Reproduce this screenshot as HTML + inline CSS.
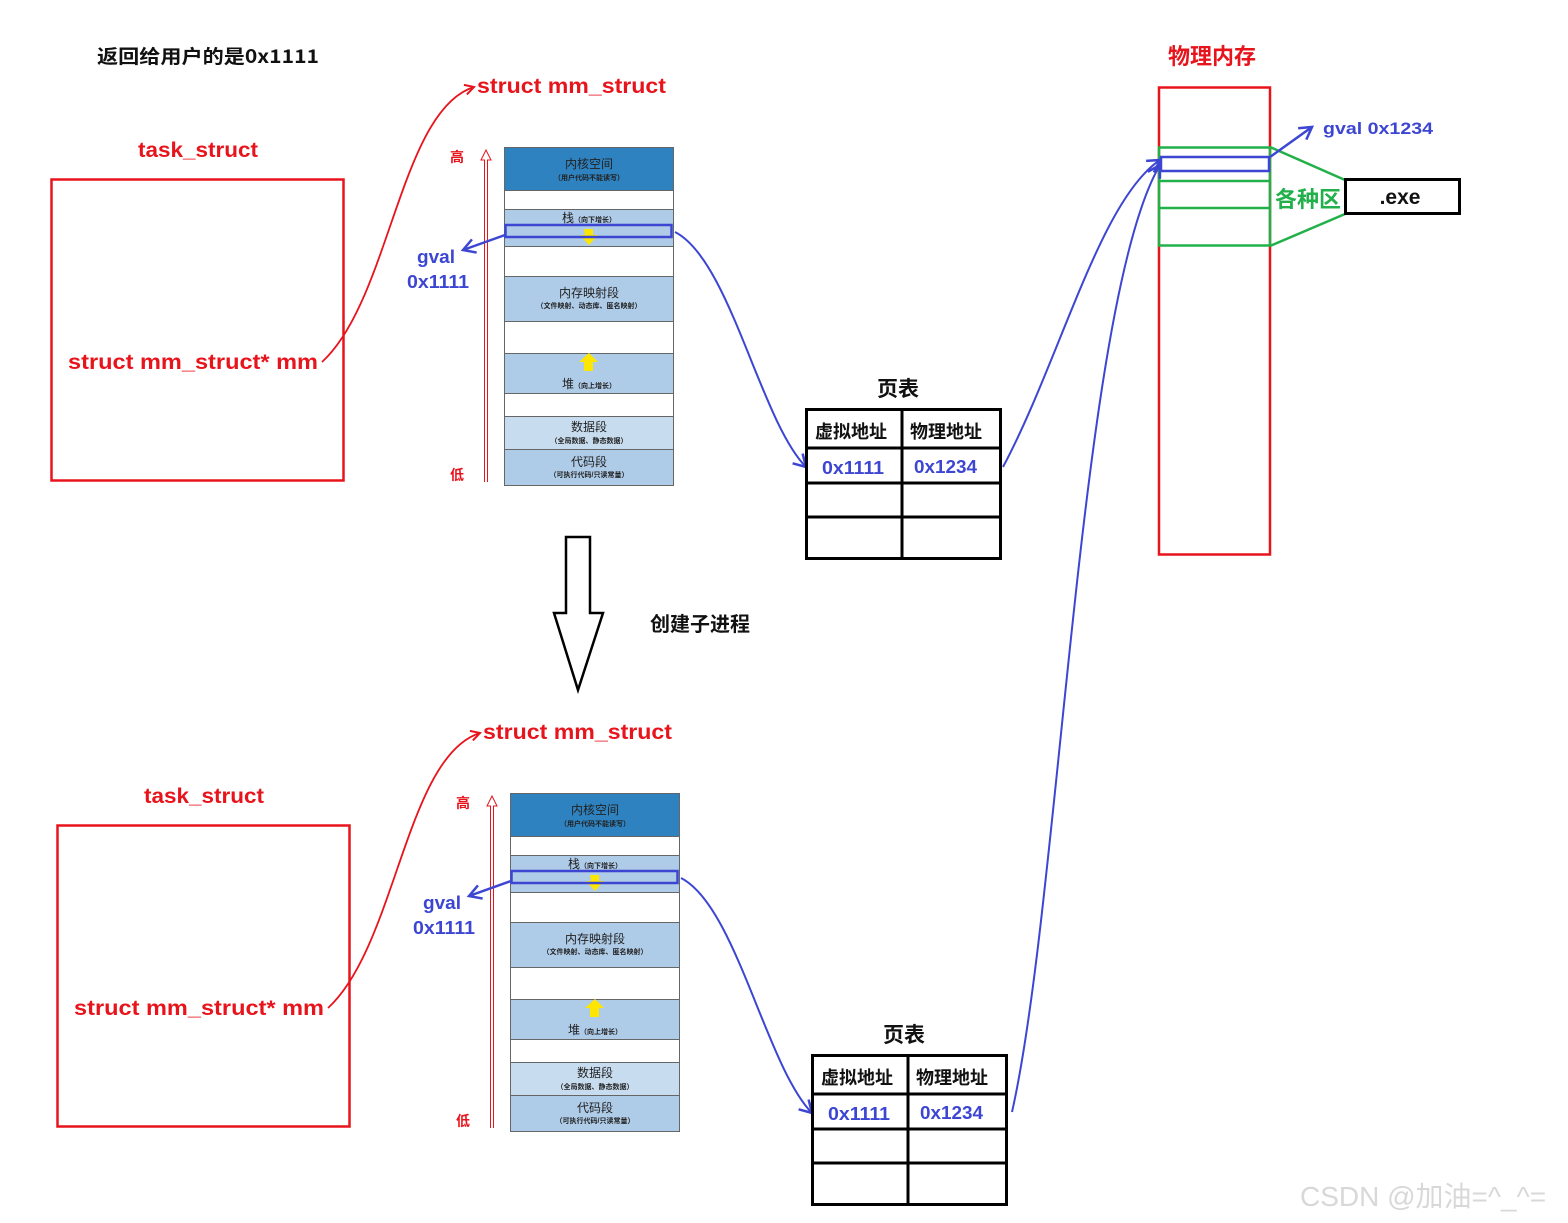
<!DOCTYPE html>
<html><head><meta charset="utf-8"><style>
html,body{margin:0;padding:0;background:#fff}
svg{display:block}
text{font-family:"Liberation Sans","Noto Sans CJK SC",sans-serif}
.cn{font-family:"Noto Sans CJK SC",sans-serif}
.sf{font-family:"Noto Serif CJK SC","Noto Sans CJK SC",serif}
</style></head><body>
<svg width="1568" height="1223" viewBox="0 0 1568 1223" xmlns="http://www.w3.org/2000/svg">
<defs>
<marker id="ar" markerWidth="12" markerHeight="12" refX="10" refY="6" orient="auto" markerUnits="userSpaceOnUse">
<path d="M1,1 L10,6 L1,11" fill="none" stroke="#e8141c" stroke-width="2"/></marker>
<marker id="ab" markerWidth="16" markerHeight="16" refX="13" refY="8" orient="auto" markerUnits="userSpaceOnUse">
<path d="M1,1 L13,8 L1,15" fill="none" stroke="#3c46d2" stroke-width="2.5"/></marker>
<g id="proc">
<text x="138" y="157" font-size="21" font-weight="bold" fill="#e8141c" textLength="120" lengthAdjust="spacingAndGlyphs">task_struct</text>
<rect x="51.5" y="179.5" width="292" height="301" fill="none" stroke="#e8141c" stroke-width="2.5"/>
<text x="68" y="369" font-size="21" font-weight="bold" fill="#e8141c" textLength="250" lengthAdjust="spacingAndGlyphs">struct mm_struct* mm</text>
<path d="M322,362 C390,300 400,110 474,87" fill="none" stroke="#e8141c" stroke-width="1.8" marker-end="url(#ar)"/>
<text x="477" y="93" font-size="21" font-weight="bold" fill="#e8141c" textLength="189" lengthAdjust="spacingAndGlyphs">struct mm_struct</text>
<text x="457" y="162" class="cn" font-size="14" font-weight="bold" fill="#e8141c" text-anchor="middle">高</text>
<text x="457" y="480" class="cn" font-size="14" font-weight="bold" fill="#e8141c" text-anchor="middle">低</text>
<path d="M484.5,482 V160 H481 L486,150 L491,160 H487.5 V482" fill="none" stroke="#e8141c" stroke-width="1"/>
<g stroke="#666" stroke-width="1">
<rect x="504.5" y="147.5" width="169" height="43" fill="#2e82c0"/>
<rect x="504.5" y="190.5" width="169" height="19" fill="#fff"/>
<rect x="504.5" y="209.5" width="169" height="37" fill="#aecbe8"/>
<rect x="504.5" y="246.5" width="169" height="30" fill="#fff"/>
<rect x="504.5" y="276.5" width="169" height="45" fill="#aecbe8"/>
<rect x="504.5" y="321.5" width="169" height="32" fill="#fff"/>
<rect x="504.5" y="353.5" width="169" height="40" fill="#aecbe8"/>
<rect x="504.5" y="393.5" width="169" height="23" fill="#fff"/>
<rect x="504.5" y="416.5" width="169" height="33" fill="#c8dcf0"/>
<rect x="504.5" y="449.5" width="169" height="36" fill="#aecbe8"/>
</g>
<g class="sf" fill="#222" text-anchor="middle">
<text x="589" y="168" font-size="12">内核空间</text>
<text x="589" y="180" font-size="7" font-weight="bold">（用户代码不能读写）</text>
<text x="589" y="222" font-size="12">栈<tspan font-size="7" font-weight="bold">（向下增长）</tspan></text>
<text x="589" y="297" font-size="12">内存映射段</text>
<text x="589" y="308" font-size="7" font-weight="bold">（文件映射、动态库、匿名映射）</text>
<text x="589" y="388" font-size="12">堆<tspan font-size="7" font-weight="bold">（向上增长）</tspan></text>
<text x="589" y="431" font-size="12">数据段</text>
<text x="589" y="443" font-size="7" font-weight="bold">（全局数据、静态数据）</text>
<text x="589" y="466" font-size="12">代码段</text>
<text x="589" y="477" font-size="7" font-weight="bold">（可执行代码/只读常量）</text>
</g>
<path d="M584,229 h9 v6 h5 l-9,10 l-9,-10 h5z" fill="#ffe600"/>
<path d="M589,353 l9,9 h-5 v9 h-9 v-9 h-5z" fill="#ffe600"/>
<rect x="505.5" y="225" width="166" height="12" fill="none" stroke="#3c46d2" stroke-width="2.5"/>
<line x1="505" y1="235" x2="463" y2="250" stroke="#3c46d2" stroke-width="2.5" marker-end="url(#ab)"/>
<text x="417" y="263" font-size="18" font-weight="bold" fill="#3c46d2" textLength="38" lengthAdjust="spacingAndGlyphs">gval</text>
<text x="407" y="288" font-size="18" font-weight="bold" fill="#3c46d2" textLength="62" lengthAdjust="spacingAndGlyphs">0x1111</text>
<path d="M675,232 C730,260 760,420 806,467" fill="none" stroke="#3c46d2" stroke-width="2" marker-end="url(#ab)"/>
<text x="898" y="396" class="cn" font-size="21" font-weight="bold" fill="#111" text-anchor="middle">页表</text>
<g stroke="#000" stroke-width="3" fill="none">
<rect x="806.5" y="409.5" width="194" height="149"/>
<line x1="902" y1="409" x2="902" y2="559"/>
<line x1="806" y1="448" x2="1001" y2="448"/>
<line x1="806" y1="483" x2="1001" y2="483"/>
<line x1="806" y1="517" x2="1001" y2="517"/>
</g>
<text x="851" y="438" class="cn" font-size="18" font-weight="bold" fill="#111" text-anchor="middle">虚拟地址</text>
<text x="946" y="438" class="cn" font-size="18" font-weight="bold" fill="#111" text-anchor="middle">物理地址</text>
<text x="822" y="474" font-size="18" font-weight="bold" fill="#3c46d2" textLength="62" lengthAdjust="spacingAndGlyphs">0x1111</text>
<text x="914" y="473" font-size="18" font-weight="bold" fill="#3c46d2" textLength="63" lengthAdjust="spacingAndGlyphs">0x1234</text>
</g>
</defs>

<text x="97" y="63" class="cn" font-size="19" font-weight="bold" fill="#111" textLength="222" lengthAdjust="spacingAndGlyphs">返回给用户的是0x1111</text>
<use href="#proc"/>
<use href="#proc" transform="translate(6,646)"/>

<path d="M566,537 H590 V613 H603 L578,690 L554,613 H566 Z" fill="#fff" stroke="#000" stroke-width="2.5"/>
<text x="700" y="631" class="cn" font-size="20" font-weight="bold" fill="#111" text-anchor="middle">创建子进程</text>

<text x="1212" y="64" class="cn" font-size="22" font-weight="bold" fill="#e8141c" text-anchor="middle">物理内存</text>
<rect x="1159" y="87.5" width="111" height="467" fill="none" stroke="#e8141c" stroke-width="2.5"/>
<g stroke="#22b04a" stroke-width="2.5" fill="none">
<rect x="1159" y="147.5" width="111" height="98"/>
<line x1="1159" y1="181" x2="1270" y2="181"/>
<line x1="1159" y1="208" x2="1270" y2="208"/>
<line x1="1270" y1="147" x2="1345" y2="180"/>
<line x1="1270" y1="246" x2="1345" y2="214"/>
</g>
<rect x="1161" y="157" width="108" height="14" fill="none" stroke="#3c46d2" stroke-width="2.5"/>
<text x="1308" y="207" class="cn" font-size="22" font-weight="bold" fill="#22b04a" text-anchor="middle">各种区</text>
<rect x="1345.5" y="179.5" width="114" height="34" fill="#fff" stroke="#000" stroke-width="3"/>
<text x="1400" y="204" font-size="21" font-weight="bold" fill="#111" text-anchor="middle">.exe</text>
<line x1="1270" y1="157" x2="1312" y2="127" stroke="#3c46d2" stroke-width="2.5" marker-end="url(#ab)"/>
<text x="1323" y="134" font-size="17" font-weight="bold" fill="#3c46d2" textLength="110" lengthAdjust="spacingAndGlyphs">gval  0x1234</text>

<path d="M1003,467 C1060,360 1100,200 1160,160" fill="none" stroke="#3c46d2" stroke-width="2" marker-end="url(#ab)"/>
<path d="M1012,1112 C1060,900 1080,300 1160,165" fill="none" stroke="#3c46d2" stroke-width="2" marker-end="url(#ab)"/>

<text x="1300" y="1206" font-size="28" fill="#d8d8d8">CSDN @加油=^_^=</text>
</svg>
</body></html>
